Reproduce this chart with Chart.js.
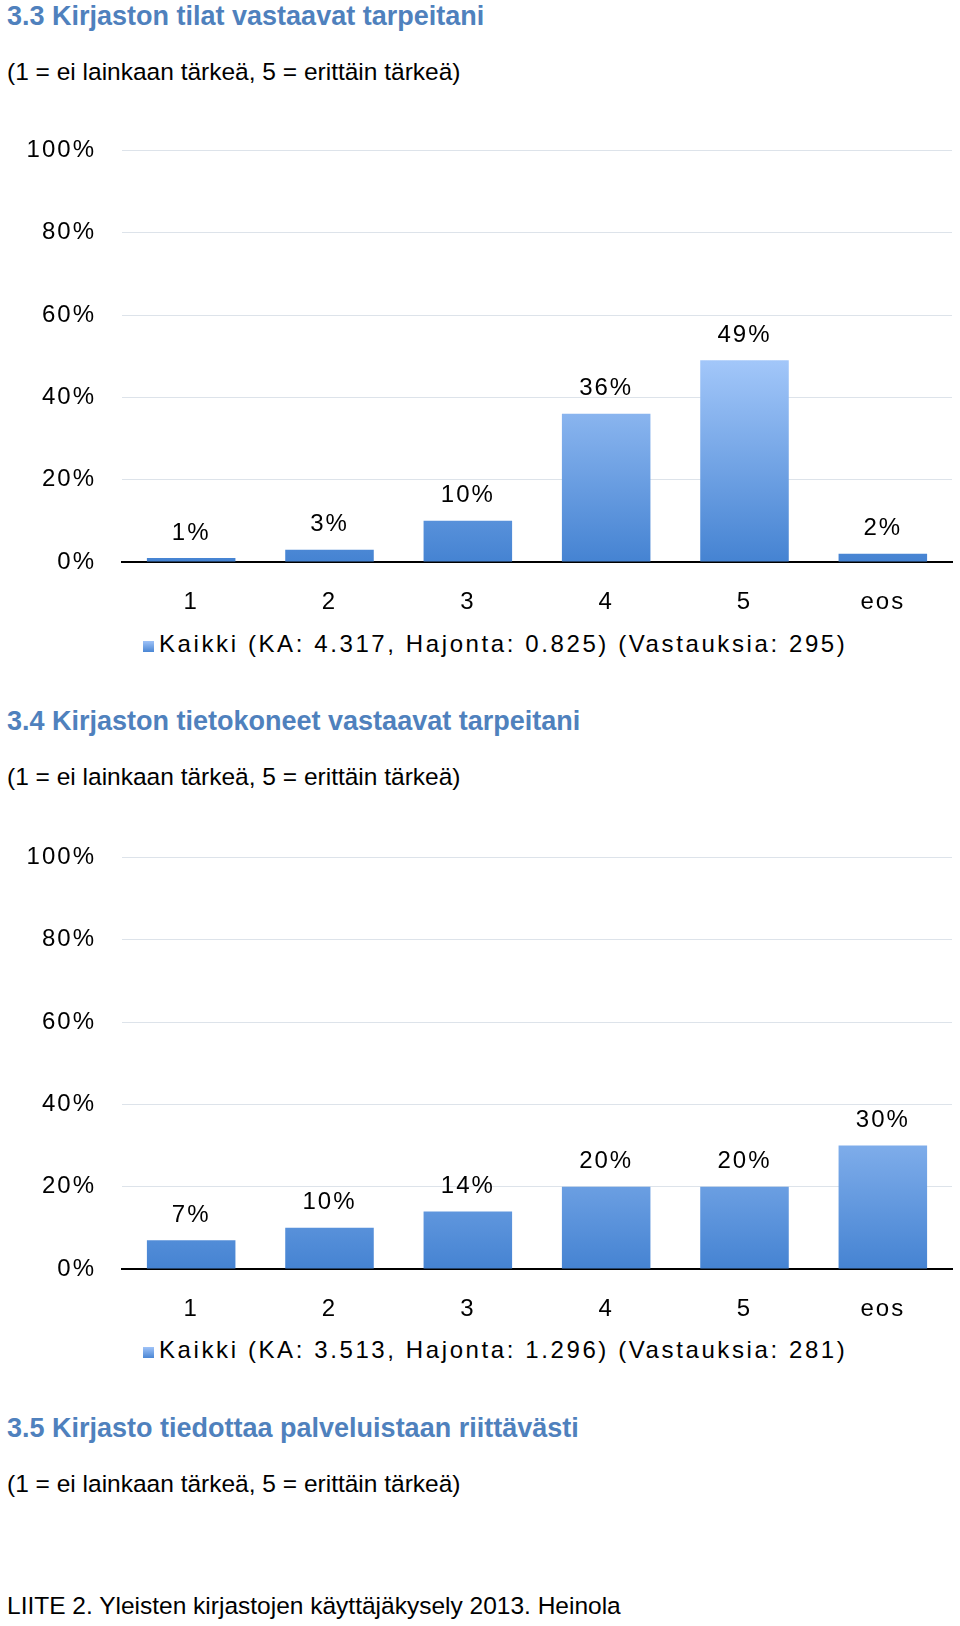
<!DOCTYPE html>
<html>
<head>
<meta charset="utf-8">
<script src="https://cdn.jsdelivr.net/npm/chart.js@4/dist/chart.umd.min.js"></script>
<style>
  body { margin: 0; background: #fff; font-family: "Liberation Sans", Arial, sans-serif; }
  .t { position: absolute; left: 7px; font-weight: bold; color: #4f81bd; font-size: 27px; }
  .s { position: absolute; left: 7px; color: #000; font-size: 24.5px; }
  .lg { position: absolute; left: 143px; font-size: 24px; letter-spacing: 2.6px; color: #000; }
  .lg span { display: inline-block; width: 11px; height: 11px; background: linear-gradient(#9fc3f8, #4a86d4); margin-right: 5px; }
  .c { position: absolute; left: 0; width: 960px; height: 500px; }
</style>
</head>
<body>
<div class="t" style="top:1px">3.3 Kirjaston tilat vastaavat tarpeitani</div>
<div class="s" style="top:58px">(1 = ei lainkaan tärkeä, 5 = erittäin tärkeä)</div>
<div class="c" style="top:110px"><canvas id="c1"></canvas></div>
<div class="lg" style="top:630px"><span></span>Kaikki (KA: 4.317, Hajonta: 0.825) (Vastauksia: 295)</div>

<div class="t" style="top:706px">3.4 Kirjaston tietokoneet vastaavat tarpeitani</div>
<div class="s" style="top:763px">(1 = ei lainkaan tärkeä, 5 = erittäin tärkeä)</div>
<div class="c" style="top:817px"><canvas id="c2"></canvas></div>
<div class="lg" style="top:1336px"><span></span>Kaikki (KA: 3.513, Hajonta: 1.296) (Vastauksia: 281)</div>

<div class="t" style="top:1413px">3.5 Kirjasto tiedottaa palveluistaan riittävästi</div>
<div class="s" style="top:1470px">(1 = ei lainkaan tärkeä, 5 = erittäin tärkeä)</div>
<div class="s" style="top:1592px">LIITE 2. Yleisten kirjastojen käyttäjäkysely 2013. Heinola</div>

<script>
// categories and values
const categories = ['1', '2', '3', '4', '5', 'eos'];
const tilat = [1, 3, 10, 36, 49, 2];
const tietokoneet = [7, 10, 14, 20, 20, 30];
const yTicks = [0, 20, 40, 60, 80, 100];

// wider letter spacing like the original
const spacing = {
  id: 'spacing',
  beforeDraw(chart) { chart.ctx.letterSpacing = '2px'; }
};

// value labels above bars
const valueLabels = {
  id: 'valueLabels',
  afterDatasetsDraw(chart) {
    const ctx = chart.ctx;
    const meta = chart.getDatasetMeta(0);
    ctx.save();
    ctx.letterSpacing = '2px';
    ctx.font = '24px "Liberation Sans", Arial';
    ctx.fillStyle = '#000';
    ctx.textAlign = 'center';
    ctx.textBaseline = 'middle';
    meta.data.forEach((bar, i) => {
      ctx.fillText(chart.data.datasets[0].data[i] + '%', bar.x, bar.y - 25);
    });
    ctx.restore();
  }
};

function makeChart(id, data) {
  return new Chart(document.getElementById(id), {
    type: 'bar',
    data: {
      labels: categories,
      datasets: [{
        data: data,
        backgroundColor: function(context) {
          const area = context.chart.chartArea;
          if (!area) return '#7aa7e8';
          const g = context.chart.ctx.createLinearGradient(0, area.top + area.height * 0.5, 0, area.bottom);
          g.addColorStop(0, '#a4c8fa');
          g.addColorStop(1, '#4583d2');
          return g;
        },
        barPercentage: 0.64,
        categoryPercentage: 1
      }]
    },
    options: {
      responsive: true,
      maintainAspectRatio: false,
      animation: false,
      layout: { padding: { top: 28, right: 8, left: 0 } },
      plugins: { legend: { display: false }, tooltip: { enabled: false } },
      scales: {
        y: {
          min: 0, max: 100,
          afterBuildTicks: axis => { axis.ticks = yTicks.map(v => ({ value: v })); },
          afterFit: axis => { axis.width = 122; },
          ticks: { callback: v => v + '%', font: { size: 24, family: '"Liberation Sans", Arial' }, color: '#000', padding: 26 },
          grid: { color: '#dde3ea', drawTicks: false },
          border: { display: false }
        },
        x: {
          afterFit: axis => { axis.height = 48; },
          ticks: { font: { size: 24, family: '"Liberation Sans", Arial' }, color: '#000', padding: 18 },
          grid: { display: false },
          border: { color: '#000', width: 2 }
        }
      }
    },
    plugins: [spacing, valueLabels]
  });
}

makeChart('c1', tilat);
makeChart('c2', tietokoneet);
</script>
</body>
</html>
